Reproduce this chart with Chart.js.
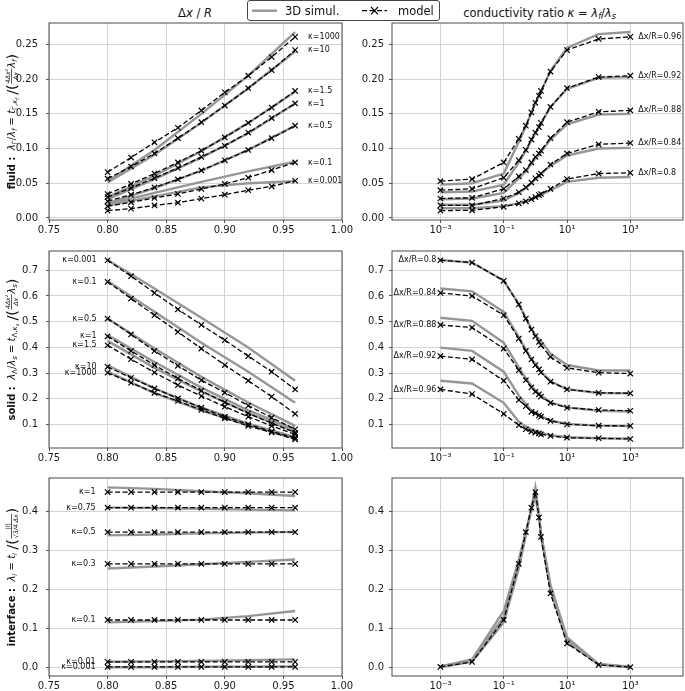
<!DOCTYPE html>
<html>
<head>
<meta charset="utf-8">
<script src="https://cdn.jsdelivr.net/npm/chart.js@4.4.1/dist/chart.umd.min.js"></script>
<style>
    body { margin: 0; background: #fff; width: 685px; height: 691px; position: relative; overflow: hidden; font-family: "DejaVu Sans", sans-serif; color: #111; }
    canvas { position: absolute; }
    .colTitle { position: absolute; top: 5px; height: 16px; line-height: 16px; font-size: 11.5px; text-align: center; white-space: nowrap; }
    .colTitle sub { font-size: 8px; vertical-align: -2px; line-height: 0; }
    #legend { position: absolute; left: 247px; top: 0; width: 193px; height: 21px; box-sizing: border-box; border: 1px solid #444; border-radius: 3px; background: #fff; z-index: 2; }
    #legend svg, #legend span { position: absolute; top: 0; }
    #legend span { font-size: 11.5px; line-height: 20px; white-space: nowrap; }
</style>
</head>
<body>
<div class="colTitle" style="left:45px;width:300px">Δ<i>x</i> / <i>R</i></div>
<div class="colTitle" style="left:392px;width:295px">conductivity ratio <i>κ</i> = <i>λ<sub>f</sub></i>/<i>λ<sub>s</sub></i></div>
<div id="legend">
    <svg style="left:4px" width="26" height="20"><line x1="0" y1="9.7" x2="25" y2="9.7" stroke="rgb(150,150,150)" stroke-width="2.4"/></svg>
    <span style="left:37px">3D simul.</span>
    <svg style="left:114px" width="26" height="20"><line x1="0" y1="9.7" x2="25" y2="9.7" stroke="#000" stroke-width="1.3" stroke-dasharray="5 2.5"/><path d="M9 6 L16 13.4 M16 6 L9 13.4" stroke="#000" stroke-width="1.1" fill="none"/></svg>
    <span style="left:150px">model</span>
</div>

<canvas id="fluidDx" width="365" height="245" style="left:0;top:0"></canvas>
<canvas id="fluidK" width="330" height="245" style="left:355px;top:0"></canvas>
<canvas id="solidDx" width="365" height="245" style="left:0;top:228px"></canvas>
<canvas id="solidK" width="330" height="245" style="left:355px;top:228px"></canvas>
<canvas id="interDx" width="365" height="236" style="left:0;top:455px"></canvas>
<canvas id="interK" width="330" height="236" style="left:355px;top:455px"></canvas>

<script>
// x values
const dxModel = [0.80, 0.82, 0.84, 0.86, 0.88, 0.90, 0.92, 0.94, 0.96];
const dxSim = [0.80, 0.84, 0.88, 0.92, 0.96];
const kappa = [0.001, 0.01, 0.1, 0.3, 0.5, 0.75, 1, 1.3, 1.5, 3, 10, 100, 1000];
const dxCurves = ['0.8', '0.84', '0.88', '0.92', '0.96'];

// tick labels
const dxTicks = [0.75, 0.80, 0.85, 0.90, 0.95, 1.00];
const kappaTicks = [1e-3, 1e-1, 1e1, 1e3];
const kappaTickLabels = ['10⁻³', '10⁻¹', '10¹', '10³'];
const fluidTicks = [0.00, 0.05, 0.10, 0.15, 0.20, 0.25];
const solidTicks = [0.1, 0.2, 0.3, 0.4, 0.5, 0.6, 0.7];
const interTicks = [0.0, 0.1, 0.2, 0.3, 0.4];

// fluid, vs dx/R (one row per kappa)
const fluidKappas = ['1000', '10', '1.5', '1', '0.5', '0.1', '0.001'];
const fluidModel = [
    [0.066, 0.087, 0.109, 0.130, 0.155, 0.181, 0.205, 0.232, 0.261],
    [0.0565, 0.074, 0.093, 0.115, 0.138, 0.162, 0.187, 0.213, 0.242],
    [0.0345, 0.049, 0.064, 0.080, 0.097, 0.116, 0.137, 0.159, 0.183],
    [0.030, 0.043, 0.0575, 0.072, 0.088, 0.104, 0.123, 0.144, 0.165],
    [0.024, 0.0335, 0.044, 0.0555, 0.0685, 0.083, 0.098, 0.115, 0.133],
    [0.0168, 0.0225, 0.0287, 0.0345, 0.0417, 0.049, 0.058, 0.069, 0.080],
    [0.0105, 0.0134, 0.018, 0.022, 0.0278, 0.0335, 0.040, 0.0455, 0.0536]
];
const fluidSim = [
    [0.053, 0.098, 0.150, 0.205, 0.268],
    [0.051, 0.091, 0.137, 0.187, 0.240],
    [0.030, 0.061, 0.096, 0.137, 0.182],
    [0.027, 0.056, 0.087, 0.122, 0.165],
    [0.021, 0.043, 0.068, 0.098, 0.133],
    [0.020, 0.036, 0.052, 0.067, 0.081],
    [0.018, 0.031, 0.044, 0.050, 0.053]
];

// fluid, vs kappa (one row per dx/R)
const fluidKModel = [
    [0.0105, 0.011, 0.016, 0.021, 0.024, 0.027, 0.030, 0.033, 0.0345, 0.042, 0.056, 0.064, 0.065],
    [0.018, 0.018, 0.028, 0.037, 0.044, 0.051, 0.057, 0.061, 0.064, 0.077, 0.093, 0.106, 0.108],
    [0.028, 0.029, 0.042, 0.060, 0.069, 0.080, 0.088, 0.093, 0.097, 0.115, 0.138, 0.153, 0.155],
    [0.040, 0.042, 0.058, 0.083, 0.098, 0.113, 0.123, 0.131, 0.137, 0.160, 0.187, 0.203, 0.205],
    [0.053, 0.056, 0.080, 0.114, 0.133, 0.152, 0.166, 0.176, 0.183, 0.211, 0.242, 0.258, 0.261]
];
const fluidKSim = [
    [0.014, 0.014, 0.017, 0.021, 0.024, 0.027, 0.029, 0.031, 0.033, 0.040, 0.052, 0.058, 0.059],
    [0.019, 0.019, 0.025, 0.036, 0.043, 0.050, 0.056, 0.060, 0.063, 0.075, 0.090, 0.100, 0.101],
    [0.027, 0.028, 0.036, 0.057, 0.067, 0.078, 0.086, 0.091, 0.095, 0.113, 0.135, 0.149, 0.150],
    [0.037, 0.038, 0.048, 0.080, 0.097, 0.112, 0.122, 0.130, 0.136, 0.160, 0.186, 0.202, 0.203],
    [0.048, 0.050, 0.064, 0.110, 0.132, 0.152, 0.166, 0.176, 0.182, 0.212, 0.245, 0.265, 0.268]
];

// solid, vs dx/R
const solidKappas = ['0.001', '0.1', '0.5', '1', '1.5', '10', '1000'];
const solidModel = [
    [0.739, 0.677, 0.612, 0.548, 0.487, 0.428, 0.366, 0.305, 0.236],
    [0.655, 0.590, 0.525, 0.460, 0.395, 0.331, 0.270, 0.208, 0.141],
    [0.512, 0.450, 0.386, 0.328, 0.272, 0.224, 0.173, 0.126, 0.081],
    [0.443, 0.386, 0.331, 0.279, 0.231, 0.186, 0.143, 0.104, 0.068],
    [0.408, 0.354, 0.302, 0.253, 0.210, 0.169, 0.130, 0.094, 0.061],
    [0.324, 0.281, 0.240, 0.201, 0.165, 0.130, 0.100, 0.072, 0.048],
    [0.301, 0.262, 0.223, 0.191, 0.156, 0.123, 0.094, 0.069, 0.042]
];
const solidSim = [
    [0.740, 0.629, 0.515, 0.399, 0.270],
    [0.658, 0.538, 0.418, 0.305, 0.184],
    [0.512, 0.395, 0.285, 0.185, 0.094],
    [0.448, 0.343, 0.243, 0.155, 0.080],
    [0.425, 0.320, 0.228, 0.145, 0.072],
    [0.330, 0.240, 0.165, 0.103, 0.050],
    [0.305, 0.222, 0.155, 0.096, 0.045]
];

// solid, vs kappa
const solidKModel = [
    [0.739, 0.730, 0.659, 0.567, 0.512, 0.469, 0.443, 0.421, 0.408, 0.363, 0.320, 0.301, 0.298],
    [0.612, 0.600, 0.525, 0.434, 0.386, 0.353, 0.331, 0.314, 0.302, 0.266, 0.236, 0.223, 0.221],
    [0.487, 0.477, 0.395, 0.311, 0.272, 0.244, 0.227, 0.217, 0.208, 0.184, 0.165, 0.156, 0.153],
    [0.366, 0.353, 0.270, 0.195, 0.171, 0.149, 0.143, 0.135, 0.130, 0.114, 0.100, 0.095, 0.094],
    [0.236, 0.218, 0.141, 0.097, 0.081, 0.072, 0.068, 0.065, 0.061, 0.055, 0.048, 0.046, 0.043]
];
const solidKSim = [
    [0.740, 0.730, 0.660, 0.568, 0.514, 0.472, 0.448, 0.432, 0.425, 0.375, 0.331, 0.310, 0.310],
    [0.629, 0.618, 0.538, 0.440, 0.390, 0.356, 0.335, 0.318, 0.305, 0.268, 0.237, 0.222, 0.221],
    [0.515, 0.503, 0.418, 0.322, 0.280, 0.250, 0.232, 0.220, 0.212, 0.186, 0.166, 0.153, 0.150],
    [0.399, 0.386, 0.305, 0.212, 0.180, 0.155, 0.146, 0.138, 0.132, 0.115, 0.102, 0.095, 0.093],
    [0.270, 0.259, 0.184, 0.110, 0.092, 0.080, 0.075, 0.071, 0.068, 0.058, 0.050, 0.046, 0.045]
];

// interface, vs dx/R
const interKappas = ['1', '0.75', '0.5', '0.3', '0.1', '0.01', '0.001'];
const interModel = [
    [0.450, 0.450, 0.450, 0.450, 0.450, 0.450, 0.450, 0.450, 0.450],
    [0.410, 0.410, 0.410, 0.410, 0.410, 0.410, 0.410, 0.410, 0.410],
    [0.347, 0.347, 0.347, 0.347, 0.347, 0.347, 0.347, 0.347, 0.347],
    [0.266, 0.266, 0.266, 0.266, 0.266, 0.266, 0.266, 0.266, 0.266],
    [0.122, 0.122, 0.122, 0.122, 0.122, 0.122, 0.122, 0.122, 0.122],
    [0.0146, 0.0146, 0.0146, 0.0146, 0.0146, 0.0146, 0.0146, 0.0146, 0.0146],
    [0.0017, 0.0017, 0.0017, 0.0017, 0.0017, 0.0017, 0.0017, 0.0017, 0.0017]
];
const interSim = [
    [0.462, 0.458, 0.452, 0.447, 0.440],
    [0.410, 0.409, 0.407, 0.405, 0.403],
    [0.339, 0.341, 0.344, 0.346, 0.348],
    [0.254, 0.259, 0.265, 0.271, 0.277],
    [0.116, 0.119, 0.123, 0.132, 0.145],
    [0.015, 0.016, 0.017, 0.019, 0.021],
    [0.001, 0.001, 0.002, 0.002, 0.003]
];

// interface, vs kappa (model is the same for every dx/R)
const interKModel = [0.0017, 0.0146, 0.122, 0.266, 0.347, 0.410, 0.450, 0.385, 0.335, 0.190, 0.062, 0.007, 0.001];
const interKSim = [
    [0.001, 0.015, 0.116, 0.254, 0.339, 0.410, 0.462, 0.392, 0.340, 0.200, 0.066, 0.008, 0.001],
    [0.002, 0.018, 0.130, 0.265, 0.344, 0.407, 0.452, 0.390, 0.342, 0.206, 0.071, 0.008, 0.001],
    [0.003, 0.021, 0.145, 0.277, 0.348, 0.403, 0.440, 0.388, 0.345, 0.212, 0.077, 0.009, 0.002]
];

const FONT = '"DejaVu Sans", sans-serif';
Chart.defaults.font.family = FONT;
Chart.defaults.font.size = 10;
Chart.defaults.color = '#1a1a1a';

function lineSet(xs, ys, model) {
    return {
        data: xs.map((x, i) => ({ x: x, y: ys[i] })),
        borderColor: model ? '#000' : 'rgb(150,150,150)',
        borderWidth: model ? 1.3 : 2.4,
        borderDash: model ? [5, 2.5] : [],
        pointStyle: 'crossRot',
        pointRadius: model ? 3.8 : 0,
        pointBorderWidth: 1.2,
        pointBorderColor: '#000',
        order: model ? 0 : 1,
        tension: 0,
        fill: false
    };
}

// mathtext-ish axis label: list of pieces, drawn rotated
function mathFont(s, size) {
    return (s.i ? 'italic ' : '') + (s.b ? 'bold ' : '') + size + 'px ' + FONT;
}

function drawMath(ctx, segs, cx, cy, size) {
    const items = [];
    let w = 0;
    segs.forEach(s => {
        if (s.num !== undefined) {
            const fs = size * 0.62;
            ctx.font = mathFont({ i: true }, fs);
            const wn = ctx.measureText(s.num).width;
            const wd = ctx.measureText(s.den).width;
            const fw = Math.max(wn, wd) + 2;
            items.push({ s: s, x: w, w: fw, fs: fs, wn: wn, wd: wd });
            w += fw;
        } else {
            const sc = s.lvl === 2 ? 0.5 : s.lvl === 1 ? 0.7 : (s.big ? 1.45 : 1);
            const fs = size * sc;
            ctx.font = mathFont(s, fs);
            const tw = ctx.measureText(s.t).width;
            const dy = s.lvl === 2 ? size * 0.42 : s.lvl === 1 ? size * 0.25 : (s.big ? size * 0.22 : 0);
            items.push({ s: s, x: w, w: tw, fs: fs, dy: dy });
            w += tw;
        }
    });
    ctx.save();
    ctx.translate(cx, cy);
    ctx.rotate(-Math.PI / 2);
    ctx.fillStyle = '#111';
    ctx.strokeStyle = '#111';
    ctx.textBaseline = 'alphabetic';
    ctx.textAlign = 'left';
    const base = size * 0.35;
    items.forEach(it => {
        const x0 = it.x - w / 2;
        if (it.s.num !== undefined) {
            const bar = base - size * 0.3;
            ctx.font = mathFont({ i: true }, it.fs);
            ctx.fillText(it.s.num, x0 + (it.w - it.wn) / 2, bar - 1.5);
            ctx.fillText(it.s.den, x0 + (it.w - it.wd) / 2, bar + 1.5 + it.fs * 0.75);
            ctx.lineWidth = 0.7;
            ctx.beginPath();
            ctx.moveTo(x0 + 0.5, bar);
            ctx.lineTo(x0 + it.w - 0.5, bar);
            ctx.stroke();
        } else {
            ctx.font = mathFont(it.s, it.fs);
            ctx.fillText(it.s.t, x0, base + it.dy);
        }
    });
    ctx.restore();
}

const fluidLabel = [
    { t: 'fluid :', b: 1 }, { t: '  ' }, { t: 'λ', i: 1 }, { t: 'Γ', lvl: 1 }, { t: '/' }, { t: 'λ', i: 1 }, { t: 'f', i: 1, lvl: 1 },
    { t: ' = ' }, { t: 't', i: 1 }, { t: 'Γ,', lvl: 1 }, { t: 'κ', i: 1, lvl: 1 }, { t: 'f', i: 1, lvl: 2 }, { t: ' ' },
    { t: '/', big: 1 }, { t: '(', big: 1 }, { num: '4Δx²', den: 'Δx' }, { t: 'λ', i: 1 }, { t: 'f', i: 1, lvl: 1 }, { t: ')', big: 1 }
];
const solidLabel = [
    { t: 'solid :', b: 1 }, { t: '  ' }, { t: 'λ', i: 1 }, { t: 'Λ', lvl: 1 }, { t: '/' }, { t: 'λ', i: 1 }, { t: 's', i: 1, lvl: 1 },
    { t: ' = ' }, { t: 't', i: 1 }, { t: 'Λ,', lvl: 1 }, { t: 'κ', i: 1, lvl: 1 }, { t: 's', i: 1, lvl: 2 }, { t: ' ' },
    { t: '/', big: 1 }, { t: '(', big: 1 }, { num: '4Δx²', den: 'Δx' }, { t: 'λ', i: 1 }, { t: 's', i: 1, lvl: 1 }, { t: ')', big: 1 }
];
const interLabel = [
    { t: 'interface :', b: 1 }, { t: '  ' }, { t: 'λ', i: 1 }, { t: 'I', i: 1, lvl: 1 }, { t: ' = ' }, { t: 't', i: 1 }, { t: 'I', i: 1, lvl: 1 },
    { t: ' ' }, { t: '/', big: 1 }, { t: '(', big: 1 }, { num: '|I|', den: '√3/4 Δx' }, { t: ')', big: 1 }
];

function makePanel(id, cfg) {
    const isLog = cfg.xLog;
    const panelPlugin = {
        id: 'panelExtras',
        afterDraw(chart) {
            const ctx = chart.ctx;
            const a = chart.chartArea;
            // frame
            ctx.save();
            ctx.strokeStyle = '#4a4a4a';
            ctx.lineWidth = 1;
            ctx.strokeRect(a.left, a.top, a.right - a.left, a.bottom - a.top);
            // curve labels
            ctx.font = '8px ' + FONT;
            ctx.fillStyle = '#111';
            ctx.textBaseline = 'middle';
            (cfg.labels || []).forEach(l => {
                const px = chart.scales.x.getPixelForValue(l.x);
                const py = chart.scales.y.getPixelForValue(l.y);
                ctx.textAlign = l.side === 'right' ? 'left' : 'right';
                ctx.fillText(l.text, px + (l.side === 'right' ? l.dx : -l.dx), py);
            });
            ctx.restore();
            if (cfg.yLabel) {
                drawMath(ctx, cfg.yLabel, 11, (a.top + a.bottom) / 2, 10);
            }
        }
    };
    return new Chart(document.getElementById(id), {
        type: 'line',
        data: { datasets: cfg.datasets },
        options: {
            responsive: false,
            animation: false,
            events: [],
            layout: { autoPadding: false, padding: { top: 23, right: cfg.padRight, left: 0, bottom: 0 } },
            plugins: { legend: { display: false }, tooltip: { enabled: false } },
            scales: {
                x: {
                    type: isLog ? 'logarithmic' : 'linear',
                    min: cfg.xMin,
                    max: cfg.xMax,
                    afterBuildTicks: s => { s.ticks = cfg.xTicks.map(v => ({ value: v })); },
                    afterFit: s => { s.height = cfg.xHeight; },
                    ticks: {
                        padding: 1,
                        maxRotation: 0,
                        autoSkip: false,
                        callback: (v, i) => isLog ? kappaTickLabels[i] : v.toFixed(2)
                    },
                    grid: { color: '#cfcfcf', lineWidth: 0.9, tickColor: '#444', tickLength: 3 },
                    border: { display: false }
                },
                y: {
                    min: cfg.yMin,
                    max: cfg.yMax,
                    afterBuildTicks: s => { s.ticks = cfg.yTicks.map(v => ({ value: v })); },
                    afterFit: s => { s.width = cfg.yWidth; },
                    ticks: {
                        padding: cfg.yPad,
                        autoSkip: false,
                        callback: v => v.toFixed(cfg.yDec)
                    },
                    grid: { color: '#cfcfcf', lineWidth: 0.9, tickColor: '#444', tickLength: 3 },
                    border: { display: false }
                }
            }
        },
        plugins: [panelPlugin]
    });
}

const leftCol = { xMin: 0.75, xMax: 1.0, xTicks: dxTicks, yWidth: 49, padRight: 23, yPad: 8 };
const rightCol = { xLog: true, xMin: Math.pow(10, -4.53), xMax: Math.pow(10, 4.665), xTicks: kappaTicks, yWidth: 37, padRight: 2, yPad: 5 };
const fluidRow = { yMin: -0.003, yMax: 0.281, yTicks: fluidTicks, yDec: 2, xHeight: 25 };
const solidRow = { yMin: 0.008, yMax: 0.775, yTicks: solidTicks, yDec: 1, xHeight: 25 };
const interRow = { yMin: -0.0216, yMax: 0.486, yTicks: interTicks, yDec: 1, xHeight: 15 };

function dxDatasets(model, sim) {
    return model.map(r => lineSet(dxModel, r, true)).concat(sim.map(r => lineSet(dxSim, r, false)));
}
function kDatasets(model, sim) {
    return model.map(r => lineSet(kappa, r, true)).concat(sim.map(r => lineSet(kappa, r, false)));
}
const last = dxModel.length - 1;
const lastK = kappa.length - 1;

makePanel('fluidDx', Object.assign({}, leftCol, fluidRow, {
    datasets: dxDatasets(fluidModel, fluidSim),
    yLabel: fluidLabel,
    labels: fluidKappas.map((k, i) => ({ text: 'κ=' + k, x: dxModel[last], y: fluidModel[i][last], side: 'right', dx: 13 }))
}));
makePanel('fluidK', Object.assign({}, rightCol, fluidRow, {
    datasets: kDatasets(fluidKModel, fluidKSim),
    labels: dxCurves.map((d, i) => ({ text: 'Δx/R=' + d, x: kappa[lastK], y: fluidKModel[i][lastK], side: 'right', dx: 8 }))
}));
makePanel('solidDx', Object.assign({}, leftCol, solidRow, {
    datasets: dxDatasets(solidModel, solidSim),
    yLabel: solidLabel,
    labels: solidKappas.map((k, i) => ({ text: 'κ=' + k, x: dxModel[0], y: solidModel[i][0], side: 'left', dx: 11 }))
}));
makePanel('solidK', Object.assign({}, rightCol, solidRow, {
    datasets: kDatasets(solidKModel, solidKSim),
    labels: dxCurves.map((d, i) => ({ text: 'Δx/R=' + d, x: kappa[0], y: solidKModel[i][0], side: 'left', dx: 4 }))
}));
makePanel('interDx', Object.assign({}, leftCol, interRow, {
    datasets: dxDatasets(interModel, interSim),
    yLabel: interLabel,
    labels: interKappas.map((k, i) => ({ text: 'κ=' + k, x: dxModel[0], y: interModel[i][0], side: 'left', dx: 12 }))
}));
makePanel('interK', Object.assign({}, rightCol, interRow, {
    datasets: [lineSet(kappa, interKModel, true)].concat(interKSim.map(r => lineSet(kappa, r, false)))
}));
</script>
</body>
</html>
